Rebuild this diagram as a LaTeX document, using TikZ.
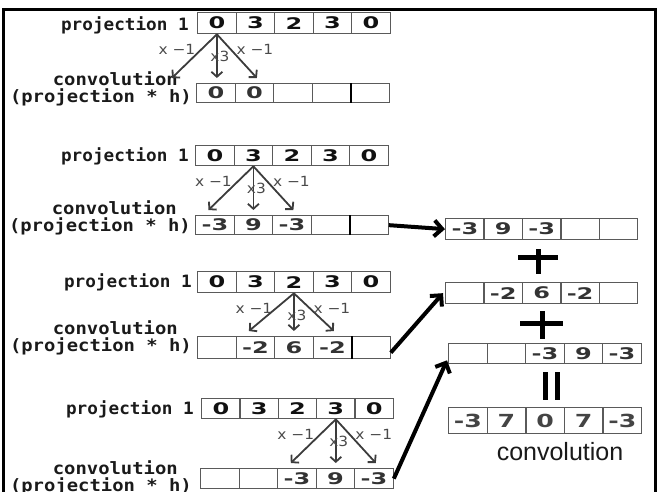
\documentclass[tikz,border=0pt]{standalone}
\usepackage{fontspec}
\usetikzlibrary{arrows.meta,calc}

\newfontfamily\labfont[FakeStretch=1.11]{DejaVu Sans Mono}
\newfontfamily\projfont[FakeStretch=1.04]{DejaVu Sans Mono}
\newfontfamily\digfont[FakeStretch=1.5]{DejaVu Sans}
\newfontfamily\resfont[FakeStretch=1.4]{DejaVu Sans}
\newfontfamily\smallfont[FakeStretch=1.1]{DejaVu Sans}
\newfontfamily\titlefont{Liberation Sans}

\definecolor{cellline}{HTML}{5A5A5A}
\definecolor{digit}{HTML}{111111}
\definecolor{convdigit}{HTML}{333333}
\definecolor{resdigit}{HTML}{444444}
\definecolor{arrowgray}{HTML}{3C3C3C}
\definecolor{labelgray}{HTML}{4A4A4A}
\definecolor{textdark}{HTML}{1A1A1A}

\tikzset{
  cellbox/.style={draw=cellline, line width=1.3pt, minimum width=38.5pt,
    minimum height=#1, inner sep=0pt, anchor=north west},
  cellbox/.default=20pt,
  projcell/.style={cellbox=#1, font=\digfont\bfseries\fontsize{16}{16}\selectfont, text=digit},
  projcell/.default=21pt,
  convcell/.style={cellbox=#1, font=\digfont\bfseries\fontsize{16}{16}\selectfont, text=convdigit},
  convcell/.default=20pt,
  rescell/.style={cellbox=26pt, font=\resfont\bfseries\fontsize{18}{18}\selectfont, text=resdigit},
  rowlabel/.style={font=\labfont\bfseries\fontsize{17}{17}\selectfont, text=textdark, inner sep=0pt},
  projlabel/.style={font=\projfont\bfseries\fontsize{17}{17}\selectfont, text=textdark, inner sep=0pt},
  weight/.style={font=\smallfont\fontsize{14}{14}\selectfont, text=labelgray, inner sep=0pt},
  smallarrow/.style={draw=arrowgray, line width=1.8pt,
    -{Straight Barb[length=5pt,width=11pt]}},
  bigarrow/.style={draw=black, line width=4pt,
    -{Straight Barb[length=8pt,width=16pt]}},
  heavy/.style={draw=black, line width=5pt},
  divider/.style={draw=black, line width=2.2pt}
}

\begin{document}
\begin{tikzpicture}[x=1pt, y=-1pt]
\useasboundingbox (0,0) rectangle (668,491);

% outer frame, open at the bottom
\draw[line width=3pt] (3.5,496) -- (3.5,9) -- (655,9) -- (655,496);

% ---- row 1: projection value 0 in cell 1
\foreach \v [count=\k] in {0,3,2,3,0}
  \node[projcell] (p1c\k) at ({197+(\k-1)*38.5},12) {\v};
\foreach \v [count=\k] in {0,0,{},{},{}}
  \node[convcell=19pt] (q1c\k) at ({196+(\k-1)*38.5},83) {\v};
\draw[divider] (q1c4.north east) -- (q1c4.south east);
\node[projlabel, anchor=base east] (t1a) at (189,30) {projection 1};
\node[rowlabel, anchor=base east] (t1b) at (178,85) {convolution};
\node[rowlabel, anchor=base east] (t1c) at (192,102) {(projection * h)};

% ---- row 2: projection value 3 in cell 2
\foreach \v [count=\k] in {0,3,2,3,0}
  \node[projcell=20pt] (p2c\k) at ({195+(\k-1)*38.5},145) {\v};
\foreach \v [count=\k] in {-3,9,-3,{},{}}
  \node[convcell=19pt] (q2c\k) at ({195+(\k-1)*38.5},215) {\v};
\draw[divider] (q2c4.north east) -- (q2c4.south east);
\node[projlabel, anchor=base east] (t2a) at (189,161) {projection 1};
\node[rowlabel, anchor=base east] (t2b) at (177,214) {convolution};
\node[rowlabel, anchor=base east] (t2c) at (191,231) {(projection * h)};

% ---- row 3: projection value 2 in cell 3
\foreach \v [count=\k] in {0,3,2,3,0}
  \node[projcell] (p3c\k) at ({197+(\k-1)*38.5},271) {\v};
\foreach \v [count=\k] in {{},-2,6,-2,{}}
  \node[convcell=22pt] (q3c\k) at ({197+(\k-1)*38.5},336) {\v};
\draw[divider] (q3c4.north east) -- (q3c4.south east);
\node[projlabel, anchor=base east] (t3a) at (192,287) {projection 1};
\node[rowlabel, anchor=base east] (t3b) at (178,334) {convolution};
\node[rowlabel, anchor=base east] (t3c) at (192,351) {(projection * h)};

% ---- row 4: projection value 3 in cell 4
\foreach \v [count=\k] in {0,3,2,3,0}
  \node[projcell=20pt] (p4c\k) at ({201+(\k-1)*38.3},398) {\v};
\foreach \v [count=\k] in {{},{},-3,9,-3}
  \node[convcell] (q4c\k) at ({200+(\k-1)*38.5},468) {\v};
\node[projlabel, anchor=base east] (t4a) at (194,414) {projection 1};
\node[rowlabel, anchor=base east] (t4b) at (178,474) {convolution};
\node[rowlabel, anchor=base east] (t4c) at (192,491) {(projection * h)};

% ---- weights h = (-1, 3, -1) spreading one projection value
\foreach \r/\s in {1/1,2/2,3/3,4/4} {
  \coordinate (m\r) at ($(p\r c\s.south |- q\r c1.north)+(0,-5)$);
  \coordinate (l\r) at ($(m\r)+(-45,0)$);
  \coordinate (r\r) at ($(m\r)+(40,0)$);
  \draw[smallarrow] (p\r c\s.south) -- (l\r);
  \draw[smallarrow] (p\r c\s.south) -- (m\r);
  \draw[smallarrow] (p\r c\s.south) -- (r\r);
  \node[weight] (wl\r) at ($(p\r c\s.south)+(-40,15)$) {x −1};
  \node[weight] (wr\r) at ($(p\r c\s.south)+(38,15)$) {x −1};
  \node[weight] (wm\r) at ($(p\r c\s.south)+(3,22)$) {x3};
}

% ---- partial results to be summed
\foreach \v [count=\k] in {-3,9,-3,{},{}}
  \node[convcell=21pt] (a\k) at ({445+(\k-1)*38.4},218) {\v};
\foreach \v [count=\k] in {{},-2,6,-2,{}}
  \node[convcell=21pt] (b\k) at ({445+(\k-1)*38.4},282) {\v};
\foreach \v [count=\k] in {{},{},-3,9,-3}
  \node[convcell=20pt] (c\k) at ({448+(\k-1)*38.5},343) {\v};
\foreach \v [count=\k] in {-3,7,0,7,-3}
  \node[rescell] (s\k) at ({448+(\k-1)*38.6},407) {\v};
\node[font=\titlefont\fontsize{25}{25}\selectfont, text=textdark, inner sep=0pt,
  anchor=base] (res) at (560,460) {convolution};

% plus, plus, equals
\draw[heavy] (518,257) -- (558,257);
\draw[heavy] (538,249) -- (538,274);
\draw[heavy] (520,323) -- (563,323);
\draw[heavy] (542,311) -- (542,339);
\draw[heavy] (545,372) -- (545,400);
\draw[heavy] (557,372) -- (557,400);

% ---- moving each partial result to the right
\coordinate (e3) at ($(q3c5.east)+(0,5)$);
\coordinate (bt) at ($(b1.west)+(-2,0)$);
\coordinate (ct) at ($(c1.south west)+(-1,-4)$);
\draw[bigarrow] (q2c5.east) -- (a1.west);
\draw[bigarrow] (e3) -- (bt);
\draw[bigarrow] (q4c5.east) -- (ct);
\end{tikzpicture}
\end{document}
